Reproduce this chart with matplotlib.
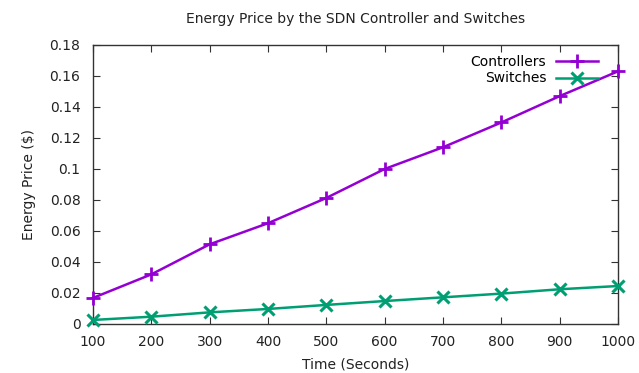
import matplotlib as mpl
mpl.use('Agg')
import matplotlib.pyplot as plt
from matplotlib.ticker import FuncFormatter, MultipleLocator

# values
times = [100, 200, 300, 400, 500, 600, 700, 800, 900, 1000]
controllers = [0.0168, 0.032, 0.0514, 0.065, 0.0813, 0.100, 0.114, 0.130, 0.147, 0.163]
switches = [0.0026, 0.0047, 0.0075, 0.0097, 0.0123, 0.0148, 0.0172, 0.0196, 0.0224, 0.0245]

plt.rcParams['font.family'] = ['DejaVu Sans']
fs = 10

fig = plt.figure(figsize=(6.39, 3.73), dpi=100)
ax = fig.add_axes([0.1455, 0.1314, 0.8216, 0.748])

ax.plot(times, controllers, color='#9400d3', lw=1.8, marker='+', ms=10, mew=2,
        label='Controllers', clip_on=False, zorder=3)
ax.plot(times, switches, color='#009e73', lw=1.8, marker='x', ms=8, mew=2.2,
        label='Switches', clip_on=False, zorder=3)

ax.set_xlim(100, 1000)
ax.set_ylim(0, 0.18)
ax.xaxis.set_major_locator(MultipleLocator(100))
ax.yaxis.set_major_locator(MultipleLocator(0.02))
ax.yaxis.set_major_formatter(FuncFormatter(lambda v, p: '%g' % round(v, 4)))

ax.tick_params(direction='in', length=5, width=0.8, top=True, right=True,
               color='#333333', labelcolor='#222222', labelsize=fs)
ax.tick_params(axis='y', pad=9)
ax.tick_params(axis='x', pad=8)
for s in ax.spines.values():
    s.set_color('#333333')
    s.set_linewidth(1.0)

ax.set_title('Energy Price by the SDN Controller and Switches', fontsize=fs,
             color='#222222', pad=16)
ax.set_xlabel('Time (Seconds)', fontsize=fs, color='#222222', labelpad=6)
ax.set_ylabel('Energy Price ($)', fontsize=fs, color='#222222', labelpad=10)

ax.legend(loc='upper right', frameon=False, markerfirst=False, fontsize=fs,
          handlelength=3.0, handletextpad=0.7, labelspacing=0.2,
          borderaxespad=0.3, bbox_to_anchor=(0.98, 1.0))

fig.savefig('out.png', dpi=100, facecolor='white')
